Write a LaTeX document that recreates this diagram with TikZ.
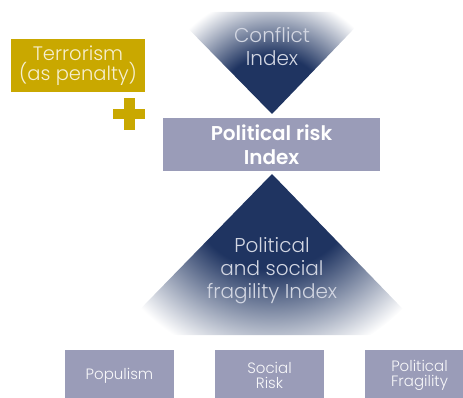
\documentclass[tikz,border=0pt]{standalone}
\usepackage{fontspec}
\setmainfont{Poppins}[UprightFont=* Light, BoldFont=* SemiBold]
\definecolor{navy}{HTML}{1F3461}
\definecolor{boxgrey}{HTML}{9A9CB8}
\definecolor{gold}{HTML}{C9A800}
\definecolor{goldtext}{HTML}{F6EFD0}
\definecolor{tritext}{HTML}{D2D6E2}
\pgfdeclareradialshading{navyfade}{\pgfpoint{0bp}{0bp}}{color(0bp)=(navy); color(12bp)=(navy); color(25bp)=(white); color(50bp)=(white)}
\tikzset{
  goldbox/.style={inner sep=0pt, text=goldtext, align=center, font=\fontsize{19.5}{20}\selectfont},
  tritxt/.style={text=tritext, align=center, font=\fontsize{20}{23}\selectfont},
  smalltxt/.style={font=\fontsize{15}{15}\selectfont, text=white!93!boxgrey, align=center},
  fadefill/.style={shading=navyfade},
}
\begin{document}
\begin{tikzpicture}[x=1pt,y=-1pt]
\useasboundingbox (0,0) rectangle (463,398);
% top triangle
\begin{scope}
  \clip (172,12) -- (370,12) -- (272,114) -- cycle;
  \shade[fadefill] (272,112) circle (118);
\end{scope}
\node[tritxt] (conflict) at (272,47) {Conflict\\Index};
% bottom triangle
\begin{scope}
  \clip (272,174) -- (428,335) -- (115,335) -- cycle;
  \shade[fadefill] (272,182) circle (182);
\end{scope}
\node[tritxt] (fragility) at (272,271) {Political\\and social\\fragility Index};
% political risk box
\path[fill=boxgrey] (163,118) rectangle (380,171);
\node[text=white, align=center, font=\bfseries\fontsize{20}{24}\selectfont] (prisk) at (271.5,144.5) {Political risk\\Index};
% terrorism
\path[fill=gold] (11,39) rectangle (145,92);
\node[goldbox] (terror) at (78,65.5) {Terrorism\\(as penalty)};
% plus
\fill[gold] (113,109) rectangle (145,119);
\fill[gold] (124,98) rectangle (135,130);
\coordinate (plus) at (129,114);
% bottom boxes
\path[fill=boxgrey] (65,350) rectangle (174,398);
\path[fill=boxgrey] (215,350) rectangle (324,398);
\path[fill=boxgrey] (365,350) rectangle (463,398);
\node[smalltxt] (populism) at (119.5,376) {Populism};
\node[smalltxt] (social) at (269.5,375) {Social\\Risk};
\node[smalltxt] (polfrag) at (419.5,375) {Political\\Fragility};
\end{tikzpicture}
\end{document}
